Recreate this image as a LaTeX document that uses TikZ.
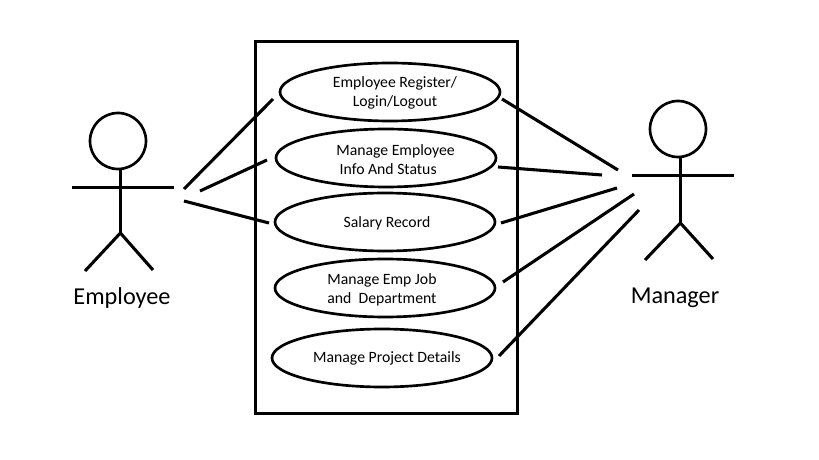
\documentclass[tikz,border=0pt]{standalone}
\usepackage{fontspec}
\setmainfont{Carlito}
\usetikzlibrary{shapes.geometric}
\tikzset{
  stroke/.style={line width=2.3pt, black},
  usecase/.style={draw, ellipse, line width=2pt, minimum width=165pt, minimum height=43.5pt, inner sep=0pt},
  uctext/.style={font=\fontsize{11.8}{14.2}\selectfont, align=left, inner sep=0pt},
  actorname/.style={font=\fontsize{18.2}{22}\selectfont, inner sep=0pt},
}
\begin{document}
\begin{tikzpicture}[x=0.75pt, y=-0.75pt]
    \useasboundingbox (0,0) rectangle (819,460);

    % System box
    \node[draw, line width=2.3pt, minimum width=197pt, minimum height=279.5pt, inner sep=0pt] (system) at (386.5,227.5) {};

    % Use cases
    \node[usecase] (register) at (390,92) {};
    \node[usecase] (info) at (386,158) {};
    \node[usecase] (salary) at (385,222) {};
    \node[usecase] (job) at (385,288) {};
    \node[usecase] (project) at (382,358) {};

    % Use case labels
    \node[uctext, align=center] (registertext) at (395,92.5) {Employee Register/\\Login/Logout};
    \node[uctext] (infotext) at (395.5,160) {Manage Employee\\\hspace{2.5pt}Info And Status};
    \node[uctext] (salarytext) at (387,223) {Salary Record};
    \node[uctext] (jobtext) at (382,290) {Manage Emp Job\\and\ \ Department};
    \node[uctext] (projecttext) at (387,358.5) {Manage Project Details};

    % Employee actor
    \node[draw, circle, line width=2pt, minimum size=42pt, inner sep=0pt] (emphead) at (118,141) {};
    \coordinate (empneck) at (120.4,169);
    \coordinate (emphip) at (120.4,233);
    \coordinate (emparml) at (72,187.4);
    \coordinate (emparmr) at (174,187.4);
    \coordinate (emplegl) at (85,271);
    \coordinate (emplegr) at (153,270);
    \draw[stroke] (empneck) -- (emphip);
    \draw[stroke] (emparml) -- (emparmr);
    \draw[stroke] (emplegl) -- (emphip) -- (emplegr);
    \node[actorname] (employee) at (122,298) {Employee};

    % Manager actor
    \node[draw, circle, line width=2pt, minimum size=42pt, inner sep=0pt] (mgrhead) at (678,129) {};
    \coordinate (mgrneck) at (680.4,157);
    \coordinate (mgrhip) at (680.4,223);
    \coordinate (mgrarml) at (632,175.4);
    \coordinate (mgrarmr) at (734,175.4);
    \coordinate (mgrlegl) at (645,260);
    \coordinate (mgrlegr) at (713,259);
    \draw[stroke] (mgrneck) -- (mgrhip);
    \draw[stroke] (mgrarml) -- (mgrarmr);
    \draw[stroke] (mgrlegl) -- (mgrhip) -- (mgrlegr);
    \node[actorname] (manager) at (675,297.5) {Manager};

    % Loose ends of the connectors
    \coordinate (e1a) at (184,189);
    \coordinate (e1b) at (273,99);
    \coordinate (e2a) at (200,191);
    \coordinate (e2b) at (267,160);
    \coordinate (e3a) at (184,201);
    \coordinate (e3b) at (269,223);
    \coordinate (m1a) at (502,99);
    \coordinate (m1b) at (618,170);
    \coordinate (m2a) at (498,167);
    \coordinate (m2b) at (602,175);
    \coordinate (m3a) at (501,223);
    \coordinate (m3b) at (617,188);
    \coordinate (m4a) at (503,282);
    \coordinate (m4b) at (634,194);
    \coordinate (m5a) at (499,356);
    \coordinate (m5b) at (639,210);

    % Connectors
    \draw[stroke] (e1a) -- (e1b);
    \draw[stroke] (e2a) -- (e2b);
    \draw[stroke] (e3a) -- (e3b);
    \draw[stroke] (m1a) -- (m1b);
    \draw[stroke] (m2a) -- (m2b);
    \draw[stroke] (m3a) -- (m3b);
    \draw[stroke] (m4a) -- (m4b);
    \draw[stroke] (m5a) -- (m5b);
\end{tikzpicture}
\end{document}
